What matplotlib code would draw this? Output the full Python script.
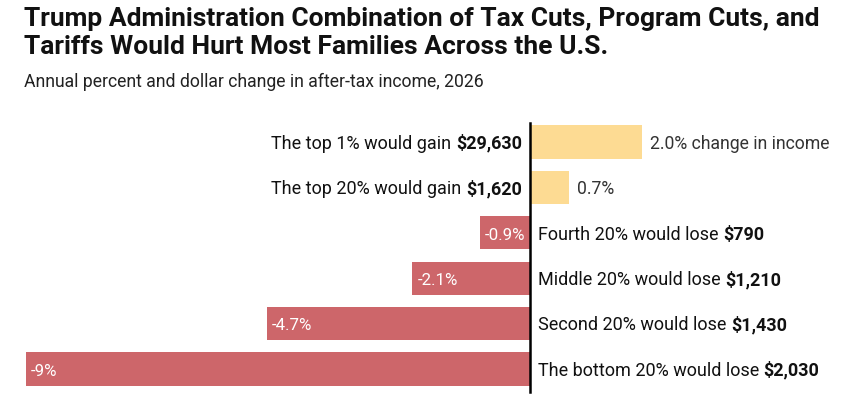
import matplotlib
matplotlib.use('Agg')
import matplotlib.pyplot as plt

# data
groups = ['The top 1%', 'The top 20%', 'Fourth 20%', 'Middle 20%', 'Second 20%', 'The bottom 20%']
pct_change = [2.0, 0.7, -0.9, -2.1, -4.7, -9.0]
pct_labels = ['2.0% change in income', '0.7%', '-0.9%', '-2.1%', '-4.7%', '-9%']
dollar_labels = ['$29,630', '$1,620', '$790', '$1,210', '$1,430', '$2,030']

gain_color = '#FDDB93'
loss_color = '#CD666A'
font = 'Roboto'

fig = plt.figure(figsize=(8.48, 3.97), dpi=100)
# axes spans full width; zero at x=530 px, 56 px per percentage point
ax = fig.add_axes([0, 2 / 397, 1, 275 / 397])
ax.set_xlim(-530 / 56, (848 - 530) / 56)
ax.set_ylim(5.573, -0.485)
ax.axis('off')

ys = list(range(len(groups)))
colors = [gain_color if v > 0 else loss_color for v in pct_change]
ax.barh(ys, pct_change, height=0.73, color=colors, zorder=1)
ax.axvline(0, ymin=0.01, ymax=0.99, color='black', lw=1.8, zorder=3)

pad = 8 / 56
fs = 13
fs_pct = 12.7
base = 0.15
for y, v, pl, g, d in zip(ys, pct_change, pct_labels, groups, dollar_labels):
    if v > 0:
        ax.text(v + pad, y + base, pl, ha='left', va='baseline', fontsize=fs_pct,
                family=font, color='#333333')
        bold = ax.text(-pad, y + base, d, ha='right', va='baseline', fontsize=fs,
                       family=font, weight='bold', color='#111111')
        ax.annotate(g + ' would gain ', xy=(0, y + base), xycoords=(bold, 'data'),
                    ha='right', va='baseline', fontsize=fs, family=font, color='#111111')
    else:
        ax.text(v + 5 / 56, y + base, pl, ha='left', va='baseline', fontsize=fs_pct - 0.5,
                family=font, color='white')
        reg = ax.text(pad, y + base, g + ' would lose ', ha='left', va='baseline',
                      fontsize=fs, family=font, color='#111111')
        ax.annotate(d, xy=(1, y + base), xycoords=(reg, 'data'),
                    ha='left', va='baseline', fontsize=fs, family=font,
                    weight='bold', color='#111111')

fig.text(24 / 848, 1 - 26 / 397, 'Trump Administration Combination of Tax Cuts, Program Cuts, and',
         fontsize=19, weight='bold', family='Roboto', color='#111111', va='baseline')
fig.text(24 / 848, 1 - 54 / 397, 'Tariffs Would Hurt Most Families Across the U.S.',
         fontsize=19, weight='bold', family='Roboto', color='#111111', va='baseline')
fig.text(24 / 848, 1 - 87 / 397, 'Annual percent and dollar change in after-tax income, 2026',
         fontsize=12.7, family=font, color='#222222', va='baseline')

fig.savefig('out.png', dpi=100)
